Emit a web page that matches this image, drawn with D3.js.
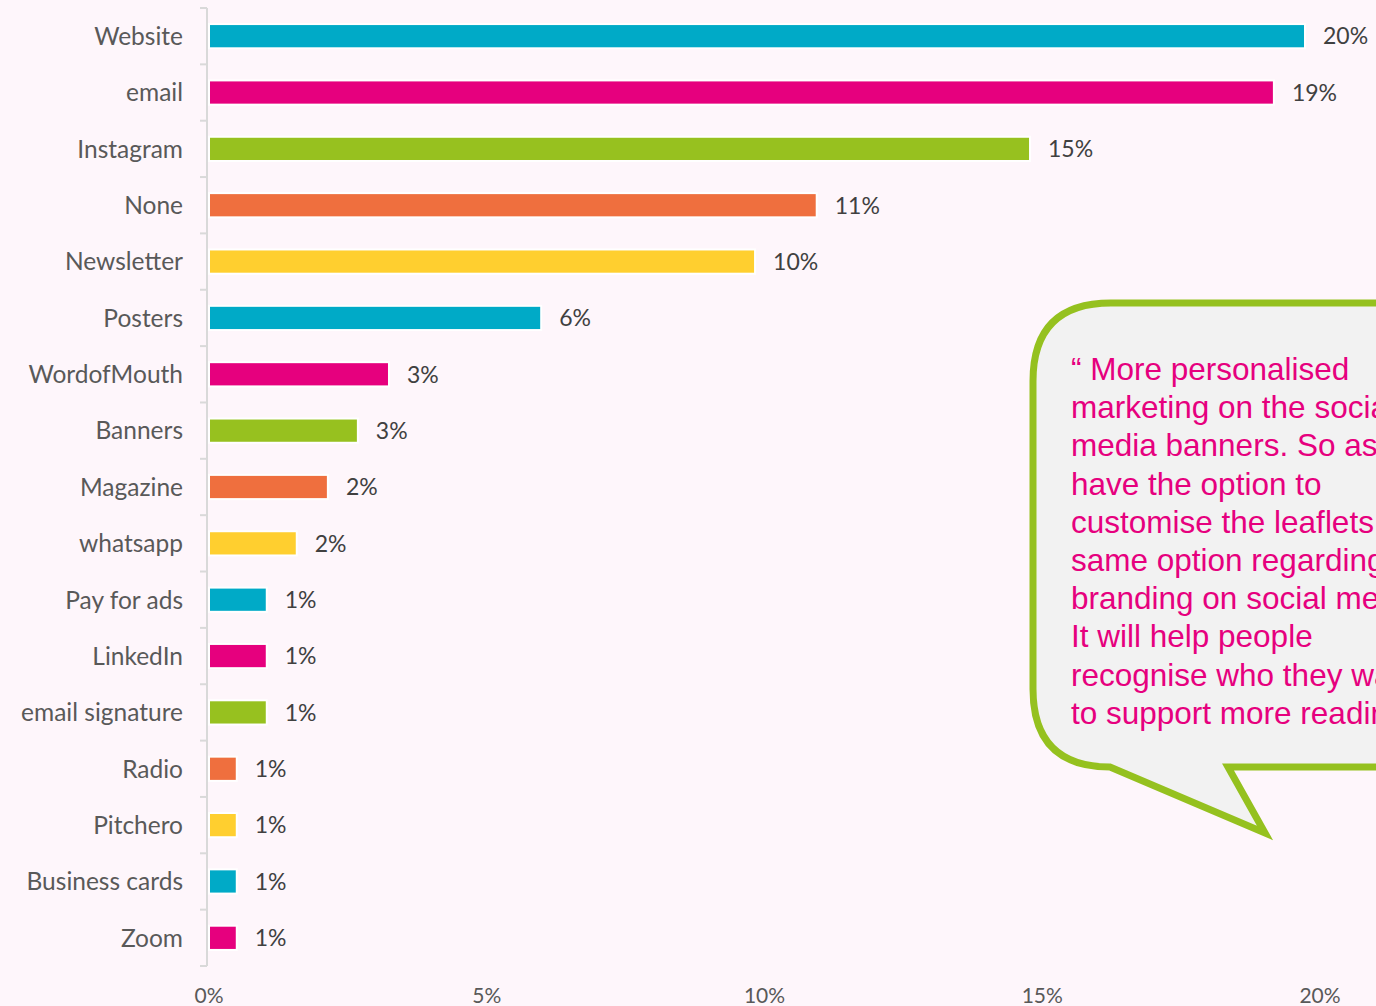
<!DOCTYPE html>
<html><head><meta charset="utf-8">
<script src="https://cdn.jsdelivr.net/npm/d3@7"></script>
<style>
html,body{margin:0;padding:0;background:#fef6fb;overflow:hidden;}
svg{display:block;}
</style></head>
<body>
<script>
const categories = ["Website","email","Instagram","None","Newsletter","Posters","WordofMouth","Banners","Magazine","whatsapp","Pay for ads","LinkedIn","email signature","Radio","Pitchero","Business cards","Zoom"];
const values = [19.73,19.17,14.78,10.94,9.83,5.98,3.24,2.68,2.14,1.58,1.04,1.04,1.04,0.5,0.5,0.5,0.5];
const valueLabels = ["20%","19%","15%","11%","10%","6%","3%","3%","2%","2%","1%","1%","1%","1%","1%","1%","1%"];
const palette = ["#00aac7","#e6007e","#97c11f","#ef6f3e","#ffcf2f"];
const xTicks = [0,5,10,15,20];
const quoteLines = ["\u201c More personalised","marketing on the social","media banners. So as to","have the option to","customise the leaflets, the","same option regarding","branding on social media.","It will help people","recognise who they want","to support more reading."];

const W=1376,H=1006;
const svg=d3.select("body").append("svg").attr("width",W).attr("height",H);
svg.append("rect").attr("width",W).attr("height",H).attr("fill","#fef6fb");

const x=d3.scaleLinear().domain([0,20]).range([209,1320]);
const y=d3.scaleBand().domain(categories).range([8,966]).paddingInner(0.57).paddingOuter(0.285);

// axis line + ticks at band boundaries
const g=svg.append("g");
g.append("line").attr("x1",207).attr("x2",207).attr("y1",8).attr("y2",966).attr("stroke","#d9d9d9").attr("stroke-width",2);
const step=y.step();
d3.range(categories.length+1).forEach(i=>{
  const yy=8+i*step;
  g.append("line").attr("x1",200).attr("x2",207).attr("y1",yy).attr("y2",yy).attr("stroke","#d9d9d9").attr("stroke-width",2);
});

// bars
svg.append("g").selectAll("rect").data(categories).join("rect")
  .attr("x",x(0)).attr("y",d=>y(d))
  .attr("width",(d,i)=>x(values[i])-x(0)).attr("height",y.bandwidth())
  .attr("fill",(d,i)=>palette[i%5]).attr("stroke","#ffffff").attr("stroke-width",2);

// category labels
svg.append("g").selectAll("text").data(categories).join("text")
  .attr("x",183).attr("y",d=>y(d)+y.bandwidth()/2).attr("dy","0.36em")
  .attr("text-anchor","end").attr("font-family","Lato, 'Open Sans', sans-serif").attr("font-size",24.5)
  .attr("fill","#595959").text(d=>d);

// value labels
svg.append("g").selectAll("text").data(categories).join("text")
  .attr("x",(d,i)=>x(values[i])+18).attr("y",d=>y(d)+y.bandwidth()/2).attr("dy","0.36em")
  .attr("font-family","Lato, 'Open Sans', sans-serif").attr("font-size",23)
  .attr("fill","#404040").text((d,i)=>valueLabels[i]);

// x axis labels
svg.append("g").selectAll("text").data(xTicks).join("text")
  .attr("x",d=>x(d)).attr("y",1003).attr("text-anchor","middle")
  .attr("font-family","Lato, 'Open Sans', sans-serif").attr("font-size",21)
  .attr("fill","#595959").text(d=>d+"%");

// speech bubble
const L=1033,T=303,B=767,R=1500,r=78;
const p=d3.path();
p.moveTo(L,T+r);
p.quadraticCurveTo(L,T,L+r,T);
p.lineTo(R,T);
p.lineTo(R,B);
p.lineTo(1228,B);
p.lineTo(1265,833);
p.lineTo(1110,B);
p.quadraticCurveTo(L,B,L,B-r);
p.closePath();
svg.append("path").attr("d",p.toString()).attr("fill","#f2f2f2").attr("stroke","#95c11f").attr("stroke-width",7);

svg.append("g").selectAll("text").data(quoteLines).join("text")
  .attr("x",1071).attr("y",(d,i)=>380+i*38.2)
  .attr("font-family","'Liberation Sans', Arial, sans-serif").attr("font-size",31.5)
  .attr("fill","#e6007e").text(d=>d);
</script>
</body></html>
